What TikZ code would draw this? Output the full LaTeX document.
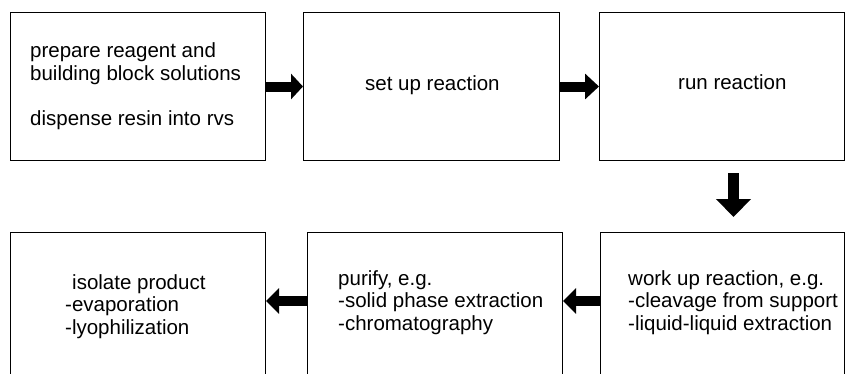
\documentclass[tikz,border=0pt]{standalone}
\usepackage{fontspec}
\setmainfont{Liberation Sans}
\usetikzlibrary{arrows.meta}
\begin{document}
\begin{tikzpicture}[x=1pt,y=-1pt,
  box/.style={draw=black, line width=1pt, anchor=north west, inner sep=0pt, minimum height=#1},
  txt/.style={anchor=base west, inner sep=0pt, align=left, font=\fontsize{20.5}{22.5}\selectfont},
  blockarrow/.style={line width=10pt, -{Triangle[length=#1, width=25pt]}}
]
\useasboundingbox (0,0) rectangle (845,373);
\clip (0,0) rectangle (845,373);
% boxes
\node[box=148pt, minimum width=255pt] (b1) at (10,12) {};
\node[box=148pt, minimum width=256pt] (b2) at (303,12) {};
\node[box=148pt, minimum width=245pt] (b3) at (599,12) {};
\node[box=168pt, minimum width=255pt] (b4) at (10,232) {};
\node[box=168pt, minimum width=255pt] (b5) at (307,232) {};
\node[box=168pt, minimum width=244pt] (b6) at (600,232) {};
% texts (base anchor = baseline of the last line)
\node[txt] (t1) at (30,125) {prepare reagent and\\building block solutions\\[22.5pt]dispense resin into rvs};
\node[txt] (t2) at (365,90) {set up reaction};
\node[txt] (t3) at (678,89) {run reaction};
\node[txt] (t4) at (65,334) {\hspace*{7pt}isolate product\\-evaporation\\-lyophilization};
\node[txt] (t5) at (338,330) {purify, e.g.\\-solid phase extraction\\-chromatography};
\node[txt] (t6) at (628,330) {work up reaction, e.g.\\-cleavage from support\\-liquid-liquid extraction};
% arrows
\draw[blockarrow=12pt] (b1.east) -- (b2.west);
\draw[blockarrow=14pt] (b2.east) -- (b3.west);
\coordinate (d1) at (733.5,173);
\coordinate (d2) at (733.5,217);
\draw[line width=11pt, -{Triangle[length=18pt, width=34pt]}] (d1) -- (d2);
\coordinate (r6) at (b6.west |- 0,301);
\coordinate (l5) at (b5.east |- 0,301);
\coordinate (r5) at (b5.west |- 0,301);
\coordinate (l4) at (b4.east |- 0,301);
\draw[blockarrow=13pt] (r6) -- (l5);
\draw[blockarrow=13pt] (r5) -- (l4);
\end{tikzpicture}
\end{document}
